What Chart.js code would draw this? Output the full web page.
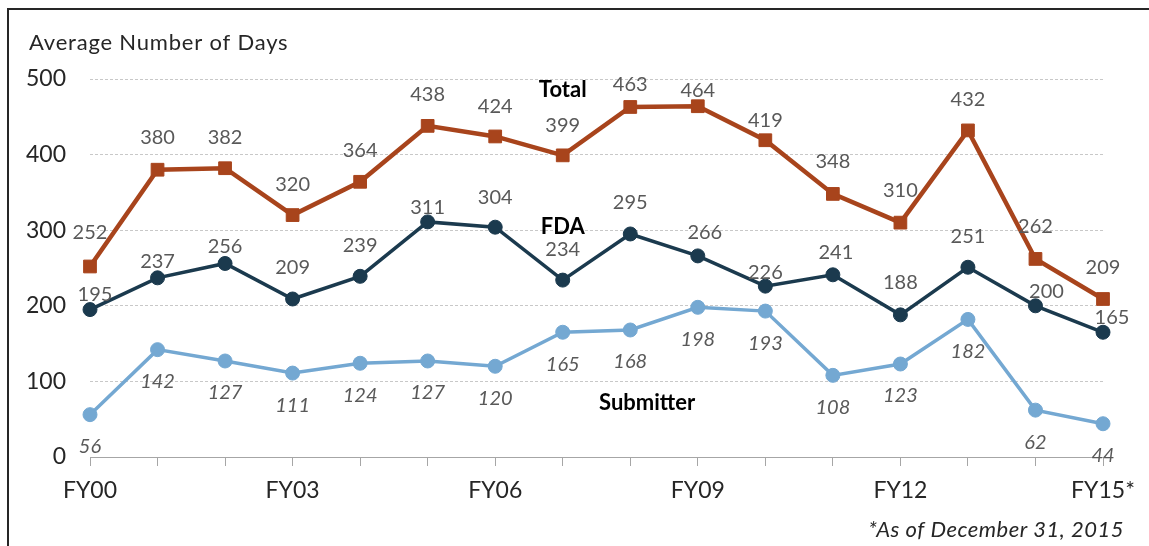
<!DOCTYPE html>
<html>
<head>
<meta charset="utf-8">
<script src="https://cdn.jsdelivr.net/npm/chart.js@4.4.1/dist/chart.umd.min.js"></script>
<style>
  html, body { margin: 0; padding: 0; background: #ffffff; }
  #wrap { width: 1149px; height: 546px; position: relative; }
  canvas { display: block; }
</style>
</head>
<body>
<div id="wrap"><canvas id="c" width="1149" height="546"></canvas></div>
<script>
// ---------- data ----------
const categories = ['FY00','FY01','FY02','FY03','FY04','FY05','FY06','FY07','FY08','FY09','FY10','FY11','FY12','FY13','FY14','FY15*'];
const totalDays     = [252, 380, 382, 320, 364, 438, 424, 399, 463, 464, 419, 348, 310, 432, 262, 209];
const fdaDays       = [195, 237, 256, 209, 239, 311, 304, 234, 295, 266, 226, 241, 188, 251, 200, 165];
const submitterDays = [ 56, 142, 127, 111, 124, 127, 120, 165, 168, 198, 193, 108, 123, 182,  62,  44];
const yTickValues   = [0, 100, 200, 300, 400, 500];
const seriesNames   = ['Total', 'FDA', 'Submitter'];
const yAxisTitle    = 'Average Number of Days';
const footnote      = '*As of December 31, 2015';

// ---------- styles ----------
const FONT = 'Lato, "Open Sans", "DejaVu Sans", sans-serif';
const COLORS = { total: '#A8441C', fda: '#1B3A4E', submitter: '#74A8D2' };
const LABEL_COLOR = '#595959';
const TEXT_COLOR = '#262626';
// pixel offsets of value labels relative to their points (styling only)
const totalLabelDy = [-34,-32,-31,-31,-31,-31,-30,-30,-22,-16,-20,-32,-32,-31,-32,-31];
const totalLabelDx = [0,0,0,0,0,0,0,0,0,0,0,0,0,0,0,0];
const fdaLabelDy   = [-15,-16,-17,-31,-31,-14,-30,-31,-31,-23,-14,-22,-32,-31,-14,-15];
const fdaLabelDx   = [5,0,0,0,0,0,0,0,0,7,0,3,0,0,11,9];
const subLabelDy   = 32;
// series-name annotation anchors in data space (category index, value)
const nameAnchors = [
  { idx: 7,    value: 485 },
  { idx: 7,    value: 304 },
  { idx: 8.25, value: 71 }
];

const labelPlugin = {
  id: 'customText',
  afterDraw(chart) {
    const ctx = chart.ctx;
    const xs = chart.scales.x, ys = chart.scales.y;
    ctx.save();
    // outer frame
    ctx.strokeStyle = '#262626';
    ctx.lineWidth = 2;
    ctx.strokeRect(8, 9, 1300, 700);

    // axis title
    ctx.fillStyle = TEXT_COLOR;
    ctx.font = '22px ' + FONT;
    ctx.textAlign = 'left';
    ctx.textBaseline = 'middle';
    if ('letterSpacing' in ctx) ctx.letterSpacing = '0.8px';
    ctx.fillText(yAxisTitle, 29, 43);
    if ('letterSpacing' in ctx) ctx.letterSpacing = '0px';

    // value labels
    const dyArr = [totalLabelDy, fdaLabelDy, null];
    const dxArr = [totalLabelDx, fdaLabelDx, null];
    chart.data.datasets.forEach((ds, di) => {
      const meta = chart.getDatasetMeta(di);
      ctx.fillStyle = LABEL_COLOR;
      ctx.font = (di === 2 ? 'italic ' : '') + '20px ' + FONT;
      ctx.textAlign = 'center';
      ctx.textBaseline = 'middle';
      meta.data.forEach((pt, i) => {
        const dy = dyArr[di] ? dyArr[di][i] : subLabelDy;
        const dx = dxArr[di] ? dxArr[di][i] : 0;
        ctx.fillText(String(ds.data[i]), pt.x + dx, pt.y + dy);
      });
    });

    // series names
    ctx.fillStyle = '#000000';
    ctx.font = 'bold 22px ' + FONT;
    seriesNames.forEach((name, k) => {
      const a = nameAnchors[k];
      const i0 = Math.floor(a.idx), f = a.idx - i0;
      const x0 = xs.getPixelForValue(i0);
      const x1 = xs.getPixelForValue(Math.min(i0 + 1, categories.length - 1));
      const x = x0 + (x1 - x0) * f;
      ctx.fillText(name, x, ys.getPixelForValue(a.value));
    });

    // footnote
    ctx.fillStyle = TEXT_COLOR;
    ctx.font = 'italic 22px ' + FONT;
    ctx.textAlign = 'right';
    if ('letterSpacing' in ctx) ctx.letterSpacing = '0.5px';
    ctx.fillText(footnote, 1124, 530);
    if ('letterSpacing' in ctx) ctx.letterSpacing = '0px';
    ctx.restore();
  }
};

new Chart(document.getElementById('c'), {
  type: 'line',
  data: {
    labels: categories,
    datasets: [
      {
        label: seriesNames[0], data: totalDays,
        borderColor: COLORS.total, backgroundColor: COLORS.total,
        borderWidth: 4.5, pointStyle: 'rect', pointRadius: 9, pointBorderWidth: 1,
        pointBackgroundColor: COLORS.total, pointBorderColor: COLORS.total, tension: 0
      },
      {
        label: seriesNames[1], data: fdaDays,
        borderColor: COLORS.fda, backgroundColor: COLORS.fda,
        borderWidth: 3.5, pointStyle: 'circle', pointRadius: 7, pointBorderWidth: 1,
        pointBackgroundColor: COLORS.fda, pointBorderColor: COLORS.fda, tension: 0
      },
      {
        label: seriesNames[2], data: submitterDays,
        borderColor: COLORS.submitter, backgroundColor: COLORS.submitter,
        borderWidth: 3.5, pointStyle: 'circle', pointRadius: 7, pointBorderWidth: 1,
        pointBackgroundColor: COLORS.submitter, pointBorderColor: COLORS.submitter, tension: 0
      }
    ]
  },
  options: {
    responsive: false,
    devicePixelRatio: 1,
    animation: false,
    layout: { padding: { top: 79, right: 46, bottom: 0, left: 0 } },
    plugins: { legend: { display: false }, tooltip: { enabled: false }, title: { display: false } },
    scales: {
      x: {
        type: 'category',
        offset: false,
        grid: { display: true, drawOnChartArea: false, drawTicks: true, tickLength: 9, color: '#a6a6a6', lineWidth: 1 },
        border: { display: true, color: '#a6a6a6', width: 1 },
        ticks: {
          autoSkip: false, maxRotation: 0, minRotation: 0, padding: 11,
          color: TEXT_COLOR, font: { family: FONT, size: 23 },
          callback: (v, i) => (i % 3 === 0 ? categories[i] : '')
        },
        afterFit: s => { s.height = 89; }
      },
      y: {
        min: yTickValues[0], max: yTickValues[yTickValues.length - 1],
        afterBuildTicks: s => { s.ticks = yTickValues.map(v => ({ value: v })); },
        grid: { display: true, drawTicks: false, color: '#c8c8c8', lineWidth: 1 },
        border: { display: false, dash: [3, 2] },
        ticks: { padding: 24, color: TEXT_COLOR, font: { family: FONT, size: 23 } },
        afterFit: s => { s.width = 90; }
      }
    }
  },
  plugins: [labelPlugin]
});
</script>
</body>
</html>
